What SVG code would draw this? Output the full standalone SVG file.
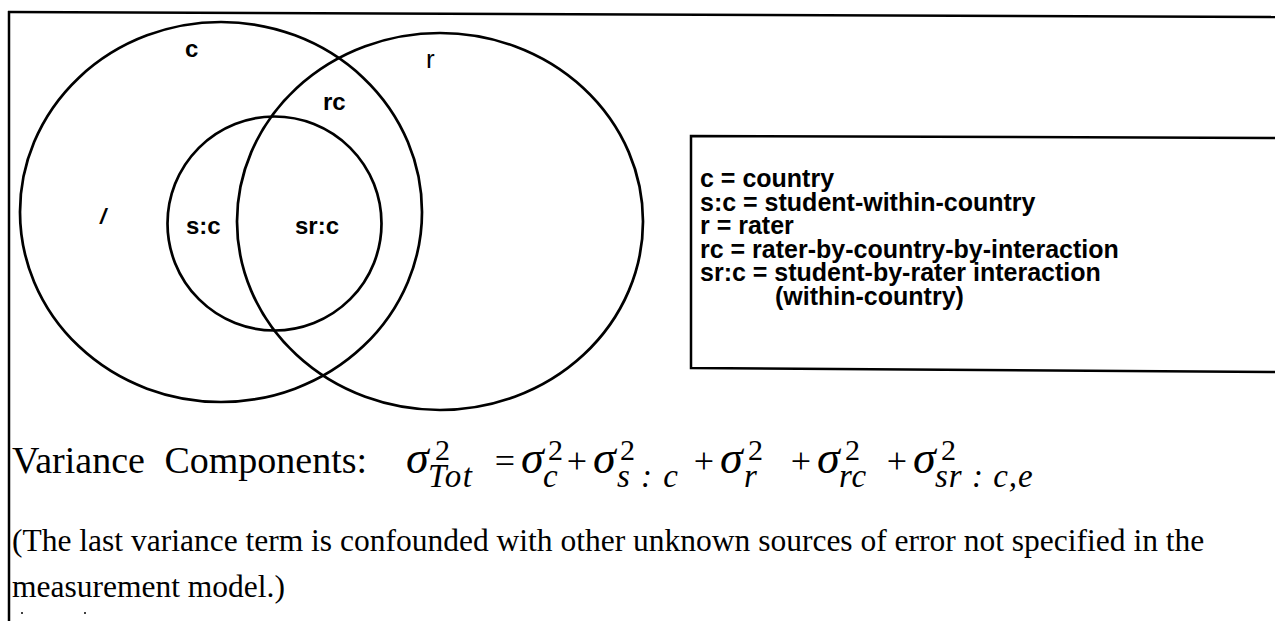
<svg xmlns="http://www.w3.org/2000/svg" width="1275" height="621" viewBox="0 0 1275 621">
<style>
.ln{fill:none;stroke:#000;stroke-width:2.7}
.fr{fill:none;stroke:#000;stroke-width:2.5}
.lb{font-family:"Liberation Sans",Arial,sans-serif;font-weight:bold;font-size:24px;fill:#000}
.lr{font-family:"Liberation Sans",Arial,sans-serif;font-weight:normal;font-size:26px;fill:#000}
.li{font-family:"Liberation Sans",Arial,sans-serif;font-weight:bold;font-style:italic;font-size:22px;fill:#000}
.lg{font-family:"Liberation Sans",Arial,sans-serif;font-weight:bold;font-size:25px;fill:#000}
.tm{font-family:"Liberation Serif","Times New Roman",serif;fill:#000}
.sg{font-family:"Liberation Serif","Times New Roman",serif;font-style:italic;font-size:46px;fill:#000}
.sp{font-family:"Liberation Serif","Times New Roman",serif;font-size:30px;fill:#000}
.sb{font-family:"Liberation Serif","Times New Roman",serif;font-style:italic;font-size:33px;fill:#000}
.op{font-family:"Liberation Serif","Times New Roman",serif;font-size:36px;fill:#000;text-anchor:middle}
</style>
<rect width="1275" height="621" fill="#fff"/>
<g id="frame">
<line class="fr" x1="8" y1="12" x2="1275" y2="17"/>
<line class="fr" x1="9" y1="11" x2="9" y2="621"/>
</g>
<g id="venn">
<g id="c"><ellipse class="ln" cx="221" cy="212" rx="201" ry="190"/><text class="lb" x="185" y="57">c</text></g>
<g id="r"><ellipse class="ln" cx="440" cy="221.5" rx="203" ry="188.5"/><text class="lr" x="426" y="68">r</text></g>
<g id="sc"><circle class="ln" cx="274.5" cy="223.5" r="107"/><text class="lb" x="186" y="234">s:c</text></g>
<g id="rc"><text class="lb" x="323" y="110">rc</text></g>
<g id="src"><text class="lb" x="295" y="234">sr:c</text></g>
<g id="l"><text class="li" x="100" y="224">/</text></g>
</g>
<g id="legend">
<polyline class="fr" points="1275,138 691,136 691,368 1275,372"/>
<text class="lg" x="700" y="187">c = country</text>
<text class="lg" x="700" y="211">s:c = student-within-country</text>
<text class="lg" x="700" y="234">r = rater</text>
<text class="lg" x="700" y="258">rc = rater-by-country-by-interaction</text>
<text class="lg" x="700" y="281">sr:c = student-by-rater interaction</text>
<text class="lg" x="775" y="305">(within-country)</text>
</g>
<g id="formula">
<text class="tm" x="12" y="473" font-size="38" word-spacing="10">Variance Components:</text>
<text class="sg" x="406" y="473">σ</text><text class="sp" x="435" y="460">2</text><text class="sb" x="428" y="487" letter-spacing="1.5">Tot</text>
<text class="op" x="505" y="473">=</text>
<text class="sg" x="521" y="473">σ</text><text class="sp" x="548" y="460">2</text><text class="sb" x="543" y="487">c</text>
<text class="op" x="577" y="473">+</text>
<text class="sg" x="593" y="473">σ</text><text class="sp" x="620" y="460">2</text><text class="sb" x="617" y="487" letter-spacing="1.5" xml:space="preserve">s : c</text>
<text class="op" x="704" y="473">+</text>
<text class="sg" x="720" y="473">σ</text><text class="sp" x="748" y="460">2</text><text class="sb" x="744" y="487">r</text>
<text class="op" x="801" y="473">+</text>
<text class="sg" x="817" y="473">σ</text><text class="sp" x="845" y="460">2</text><text class="sb" x="839" y="487" letter-spacing="1">rc</text>
<text class="op" x="897" y="473">+</text>
<text class="sg" x="913" y="473">σ</text><text class="sp" x="941" y="460">2</text><text class="sb" x="935" y="487" letter-spacing="1" xml:space="preserve">sr : c,e</text>
</g>
<g id="note">
<text class="tm" x="12" y="551" font-size="31.5">(The last variance term is confounded with other unknown sources of error not specified in the</text>
<text class="tm" x="12" y="597" font-size="31.5">measurement model.)</text>
<circle cx="22" cy="613" r="1" fill="#000"/>
<circle cx="85" cy="613" r="1" fill="#000"/>
</g>
</svg>
